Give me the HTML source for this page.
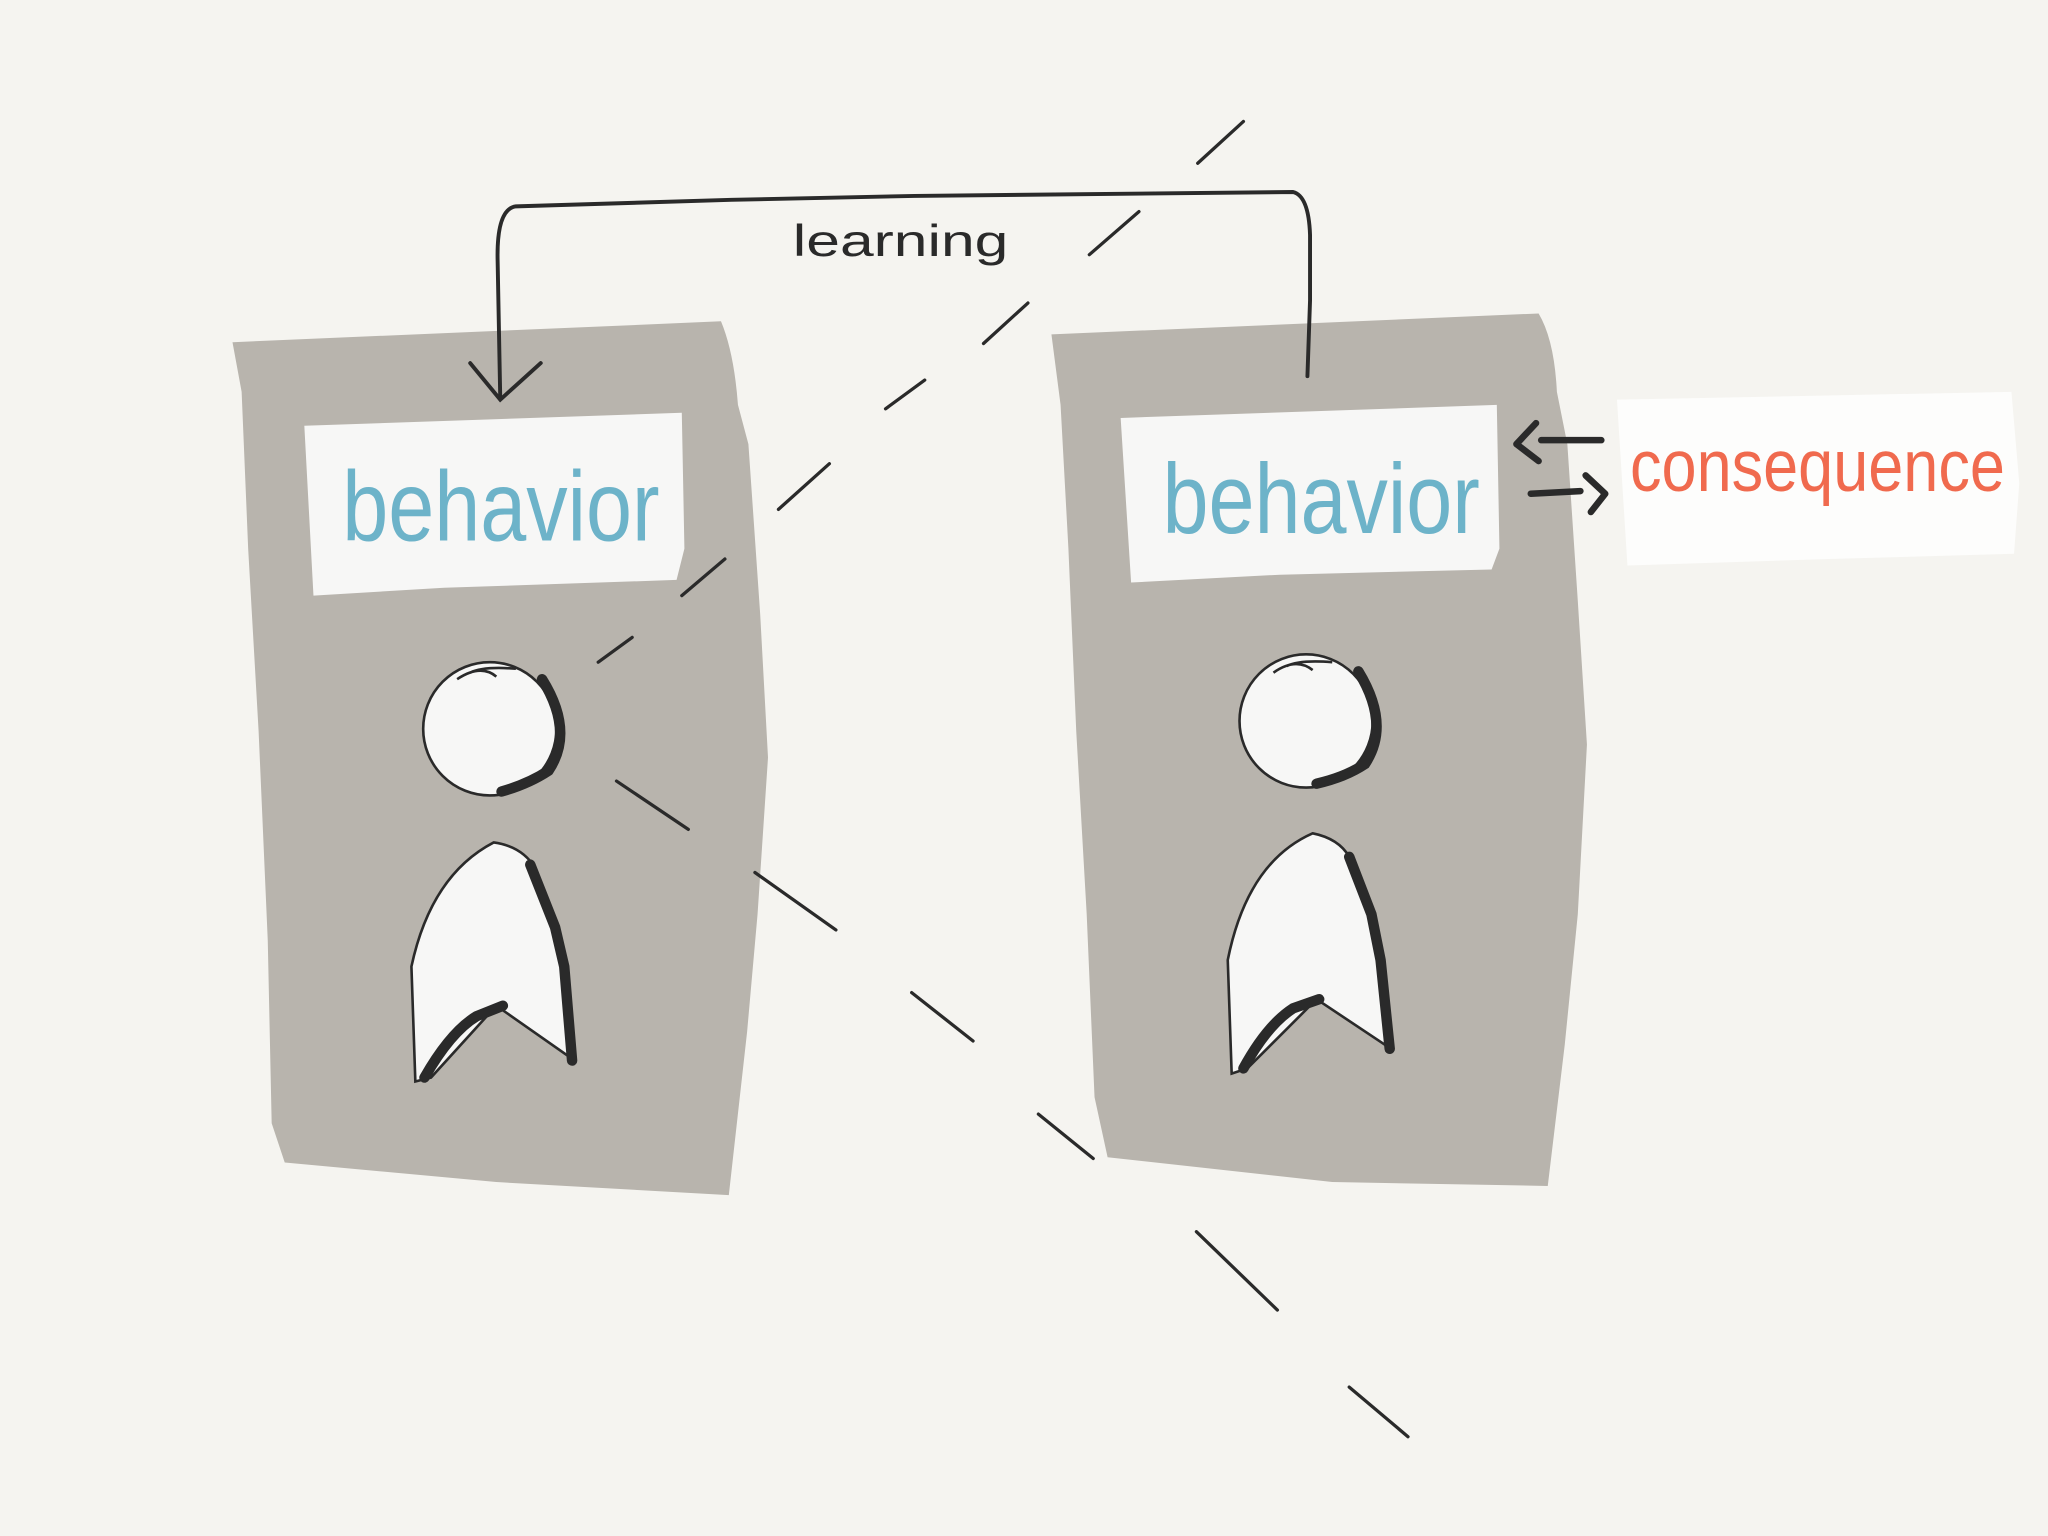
<!DOCTYPE html>
<html><head><meta charset="utf-8"><style>
html,body{margin:0;padding:0;background:#f5f4f0;}
svg{display:block;}
</style></head><body>
<svg width="2048" height="1536" viewBox="0 0 1568 1176" xmlns="http://www.w3.org/2000/svg">
<rect width="1568" height="1176" fill="#f5f4f0"/>
<!-- left panel -->
<path d="M178,262 L552,246 Q562,270 565,310 L573,340 L582,470 L588,580 L580,700 L572,790 L558,915 L380,905 L218,890 L208,860 L205,720 L198,560 L190,420 L185,300 Z" fill="#b8b4ad"/>
<!-- right panel -->
<path d="M805,256 L1178,240 Q1190,260 1192,300 L1200,340 L1208,460 L1215,570 L1208,700 L1198,800 L1185,908 L1020,905 L848,886 L838,840 L832,700 L824,560 L818,420 L812,310 Z" fill="#b8b4ad"/>
<!-- white boxes -->
<path d="M233,326 L522,316 L524,420 L518,444 L340,450 L240,456 Z" fill="#f7f7f6"/>
<path d="M858,320 L1146,310 L1148,420 L1142,436 L980,440 L866,446 Z" fill="#f7f7f6"/>
<path d="M1238,306 L1540,300 L1546,370 L1542,424 L1400,428 L1246,433 Z" fill="#fdfdfc"/>
<text x="262" y="414" font-family="Liberation Sans, sans-serif" font-size="76" fill="#6db3c9" textLength="243" lengthAdjust="spacingAndGlyphs">behavior</text>
<text x="890" y="408" font-family="Liberation Sans, sans-serif" font-size="76" fill="#6db3c9" textLength="243" lengthAdjust="spacingAndGlyphs">behavior</text>
<text x="1248" y="376" font-family="Liberation Sans, sans-serif" font-size="56" fill="#f06a4e" textLength="287" lengthAdjust="spacingAndGlyphs">consequence</text>
<!-- learning bracket -->
<g fill="none" stroke="#2a2a2a" stroke-width="3" stroke-linecap="round">
<path d="M383,305 L381,200 Q380,160 395,158 L560,153 L700,150 L990,147 Q1002,150 1003,180 L1003,230 L1001,288"/>
<path d="M360,278 L383,306 L414,278"/>
</g>
<text x="607" y="196" font-family="Liberation Sans, sans-serif" font-size="34" fill="#2a2a2a" textLength="165" lengthAdjust="spacingAndGlyphs">learning</text>
<!-- consequence arrows -->
<g fill="none" stroke="#2a2a2a" stroke-width="5" stroke-linecap="round" stroke-linejoin="round">
<path d="M1226,337 L1180,337"/>
<path d="M1176,324 L1161,340 L1178,353"/>
<path d="M1172,378 L1210,376"/>
<path d="M1214,364 L1229,378 L1218,392"/>
</g>
<!-- dashed diagonal -->
<g fill="none" stroke="#2a2a2a" stroke-width="2.5" stroke-linecap="round">
<path d="M952,93 L917,125"/><path d="M872,162 L834,195"/><path d="M787,232 L753,263"/>
<path d="M708,291 L678,313"/><path d="M635,355 L596,390"/><path d="M555,428 L522,456"/>
<path d="M484,488 L458,507"/><path d="M472,598 L527,635"/><path d="M578,668 L640,712"/>
<path d="M698,760 L745,797"/><path d="M795,853 L837,887"/><path d="M916,943 L978,1003"/>
<path d="M1033,1062 L1078,1100"/>
</g>
<!-- left figure -->
<circle cx="375" cy="558" r="51" fill="#f7f7f6" stroke="#2a2a2a" stroke-width="2"/>
<path d="M415,520 Q440,560 420,590 Q405,600 384,606" fill="none" stroke="#2a2a2a" stroke-width="8" stroke-linecap="round"/>
<path d="M350,520 Q368,508 380,518 M360,515 Q370,510 395,512" fill="none" stroke="#2a2a2a" stroke-width="2"/>
<path d="M318,828 L315,740 Q330,670 378,645 Q400,648 410,665 L428,720 L440,812 L380,770 L330,825 Z" fill="#f7f7f6" stroke="#2a2a2a" stroke-width="2"/>
<path d="M406,662 L425,710 L432,740 L438,812" fill="none" stroke="#2a2a2a" stroke-width="8" stroke-linecap="round"/>
<path d="M325,825 Q345,790 365,778 L385,770" fill="none" stroke="#2a2a2a" stroke-width="8" stroke-linecap="round"/>
<!-- right figure -->
<circle cx="1000" cy="552" r="51" fill="#f7f7f6" stroke="#2a2a2a" stroke-width="2"/>
<path d="M1040,514 Q1065,555 1045,585 Q1030,595 1008,600" fill="none" stroke="#2a2a2a" stroke-width="8" stroke-linecap="round"/>
<path d="M975,515 Q992,503 1005,513 M985,510 Q995,505 1020,507" fill="none" stroke="#2a2a2a" stroke-width="2"/>
<path d="M943,822 L940,735 Q955,660 1005,638 Q1025,642 1033,656 L1052,715 L1065,803 L1008,765 L955,818 Z" fill="#f7f7f6" stroke="#2a2a2a" stroke-width="2"/>
<path d="M1033,656 L1050,700 L1057,735 L1064,803" fill="none" stroke="#2a2a2a" stroke-width="8" stroke-linecap="round"/>
<path d="M952,818 Q970,785 990,772 L1010,765" fill="none" stroke="#2a2a2a" stroke-width="8" stroke-linecap="round"/>
</svg>
</body></html>
